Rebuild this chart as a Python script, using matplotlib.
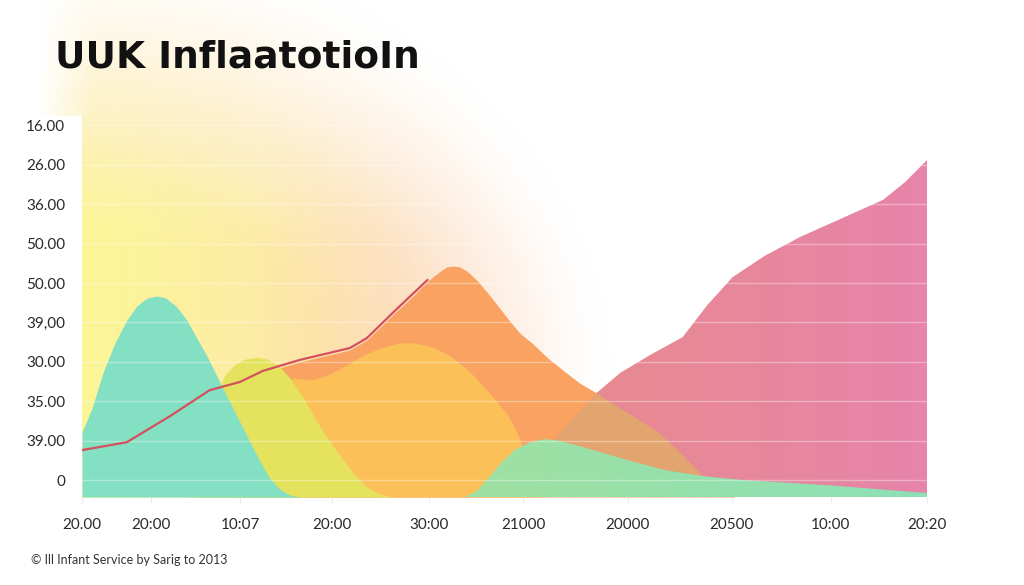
import numpy as np
import matplotlib
matplotlib.use("Agg")
import matplotlib.pyplot as plt
from matplotlib.colors import to_rgb

# ---------------- data ----------------
title = "UUK InflaatotioIn"
footer = "\u00a9 Ill Infant Service by Sarig to 2013"

x_tick_pos = [0.0, 0.82, 1.87, 2.96, 4.11, 5.22, 6.46, 7.69, 8.86, 10.0]
x_tick_labels = ["20.00", "20:00", "10:07", "20:00", "30:00", "21000",
                 "20000", "20500", "10:00", "20:20"]
y_tick_pos = [0, 1, 2, 3, 4, 5, 6, 7, 8, 9]
y_tick_labels = ["0", "39.00", "35.00", "30.00", "39,00", "50.00",
                 "50.00", "36.00", "26.00", "16.00"]

teal_x = [0.00, 0.12, 0.25, 0.39, 0.53, 0.65, 0.77, 0.89, 0.99, 1.11, 1.24, 1.36,
          1.49, 1.63, 1.75, 1.87, 1.99, 2.11, 2.22, 2.34, 2.46, 2.60]
teal_y = [1.22, 1.83, 2.74, 3.48, 4.06, 4.42, 4.62, 4.67, 4.62, 4.42, 4.06, 3.60,
          3.10, 2.49, 1.98, 1.47, 0.96, 0.46, 0.05, -0.23, -0.38, -0.43]

yellow_x = [1.28, 1.57, 1.69, 1.81, 1.93, 2.07, 2.19, 2.31, 2.46, 2.58, 2.70, 2.82,
            2.96, 3.09, 3.23, 3.37, 3.53, 3.67]
yellow_y = [-0.43, 2.03, 2.66, 2.94, 3.07, 3.12, 3.07, 2.94, 2.59, 2.21, 1.78, 1.35,
            0.89, 0.51, 0.13, -0.18, -0.36, -0.43]

lorange_x = [1.99, 2.17, 2.52, 2.70, 2.88, 3.02, 3.17, 3.31, 3.47, 3.61, 3.76, 3.92,
             4.06, 4.20, 4.34, 4.47, 4.63, 4.79, 4.91, 5.03, 5.12, 5.21, 5.28, 5.35, 5.42]
lorange_y = [-0.43, 2.41, 2.59, 2.54, 2.64, 2.79, 2.97, 3.15, 3.30, 3.40, 3.48, 3.48,
             3.43, 3.32, 3.17, 2.97, 2.66, 2.28, 1.98, 1.68, 1.32, 0.89, 0.38, -0.13, -0.43]

dorange_x = [1.40, 1.87, 2.14, 2.58, 3.17, 3.37, 3.53, 3.70, 3.88, 4.00, 4.12, 4.24,
             4.32, 4.39, 4.47, 4.57, 4.69, 4.83, 4.95, 5.07, 5.18, 5.34, 5.51, 5.72,
             5.89, 6.09, 6.31, 6.60, 6.78, 6.92, 7.08, 7.20, 7.31, 7.43, 7.55, 7.73]
dorange_y = [-0.43, 2.44, 2.72, 3.00, 3.30, 3.55, 3.88, 4.24, 4.59, 4.85, 5.10, 5.30,
             5.41, 5.43, 5.41, 5.28, 5.03, 4.67, 4.34, 4.01, 3.73, 3.45, 3.10, 2.74,
             2.46, 2.21, 1.90, 1.52, 1.27, 1.02, 0.69, 0.43, 0.18, -0.05, -0.25, -0.43]

pink_x = [5.30, 5.46, 5.62, 6.09, 6.37, 6.72, 7.11, 7.40, 7.70, 8.08, 8.50, 8.97, 9.48, 9.74, 10.00]
pink_y = [-0.43, 0.84, 1.09, 2.21, 2.72, 3.17, 3.63, 4.44, 5.15, 5.69, 6.17, 6.62, 7.11, 7.56, 8.12]

green_x = [4.53, 4.67, 4.79, 4.95, 5.12, 5.30, 5.48, 5.66, 5.89, 6.45, 6.90, 7.35, 7.82, 8.82, 10.00]
green_y = [-0.43, -0.28, 0.00, 0.41, 0.76, 0.96, 1.04, 0.99, 0.86, 0.51, 0.25, 0.10, 0.00, -0.13, -0.33]

line_x = [0.00, 0.53, 1.04, 1.51, 1.87, 2.14, 2.58, 3.17, 3.37, 3.70, 4.09]
line_y = [0.76, 0.96, 1.62, 2.28, 2.49, 2.77, 3.05, 3.35, 3.60, 4.29, 5.08]

# ---------------- style ----------------
W, H = 1024, 585
BASE = -0.43
YTOP = 9.2
plt.rcParams["font.family"] = ["Lato", "DejaVu Sans"]

fig = plt.figure(figsize=(W / 100, H / 100), dpi=100)
fig.patch.set_facecolor("white")

# background glow (decoration)
bg = fig.add_axes([0, 0, 1, 1], zorder=0)
bg.axis("off")
yy, xx = np.mgrid[0:H, 0:W].astype(float)
hx = [82, 250, 400, 550]
hue = np.array([(252, 246, 150), (253, 236, 165), (252, 215, 175), (252, 210, 180)]) / 255.0
img = np.stack([np.interp(xx, hx, hue[:, c]) for c in range(3)], axis=-1)
peach = np.array([253, 224, 185]) / 255.0
tmix = np.interp(yy, [0, 120, 220], [0.7, 0.45, 0.0])[..., None]
img = img * (1 - tmix) + peach * tmix
r = np.sqrt(((xx - 60) / 520) ** 2 + ((yy - 380) / 420) ** 2)
alpha = np.interp(r, [0, 0.5, 0.7, 0.85, 1.0, 1.06], [1, 1, 0.75, 0.4, 0.05, 0])
alpha = alpha * np.interp(yy, [0, 120, 250], [0.6, 0.8, 1.0])
mask = np.zeros((H, W))
top = yy < 116
mask[top] = np.clip((xx[top] - 38) / 55.0, 0, 1)
mid = (yy >= 116) & (yy <= 497)
mask[mid] = (xx[mid] >= 82).astype(float)
a = (alpha * mask)[..., None]
img = img * a + (1 - a)
bg.imshow(img, extent=[0, W, H, 0], aspect="auto", interpolation="bilinear")
bg.set_xlim(0, W)
bg.set_ylim(H, 0)

ax = fig.add_axes([82 / W, (H - 497) / H, 845 / W, (497 - 117.5) / H], zorder=1)
ax.patch.set_alpha(0)


def grad_fill(x, y, c0, c1, z):
    poly = ax.fill_between(x, y, BASE, facecolor="none", edgecolor="none")
    path = poly.get_paths()[0]
    g = np.linspace(0, 1, 256)[:, None]
    cc = np.array(to_rgb(c0))[None, :] * (1 - g) + np.array(to_rgb(c1))[None, :] * g
    im = ax.imshow(cc[None, :, :], extent=[x[0], x[-1], BASE, max(y)],
                   aspect="auto", zorder=z, interpolation="bilinear")
    im.set_clip_path(path, ax.transData)
    return path


ax.fill_between(dorange_x, dorange_y, BASE, color="#f9a262", lw=0, zorder=1)
pink_path = grad_fill(pink_x, pink_y, "#e88b8b", "#e684aa", 2)
mud = ax.fill_between(dorange_x, dorange_y, BASE, color="#e3a56f", lw=0, zorder=2.5)
mud.set_clip_path(pink_path, ax.transData)
ax.fill_between(lorange_x, lorange_y, BASE, color="#fbc158", lw=0, zorder=3)
ax.fill_between(yellow_x, yellow_y, BASE, color="#e5e35e", lw=0, zorder=4)
ax.fill_between(teal_x, teal_y, BASE, color="#84e0c2", lw=0, zorder=5)
grad_fill(green_x, green_y, "#a0e0a2", "#8ce0b6", 6)

for yv in y_tick_pos:
    ax.axhline(yv, color="white", alpha=0.35, lw=1.0, zorder=7)

ax.plot(line_x, line_y, color="#d4505f", lw=1.6, zorder=8, solid_capstyle="round")

ax.set_xlim(0, 10)
ax.set_ylim(BASE, YTOP)
for s in ax.spines.values():
    s.set_visible(False)
ax.set_yticks(y_tick_pos)
ax.set_yticklabels(y_tick_labels)
ax.set_xticks(x_tick_pos)
ax.set_xticklabels(x_tick_labels)
ax.tick_params(axis="y", length=0, pad=12, labelsize=11, labelcolor="#2a2a2a")
ax.tick_params(axis="x", length=4, color="#ececec", pad=11, labelsize=11, labelcolor="#2a2a2a")

fig.text(55 / W, 1 - 58 / H, title, fontsize=27, fontweight="bold",
         family="DejaVu Sans", color="#111111", va="center", ha="left")
fig.text(31 / W, 1 - 560 / H, footer, fontsize=9, color="#333333", va="center", ha="left")

fig.savefig("out.png", dpi=100)
